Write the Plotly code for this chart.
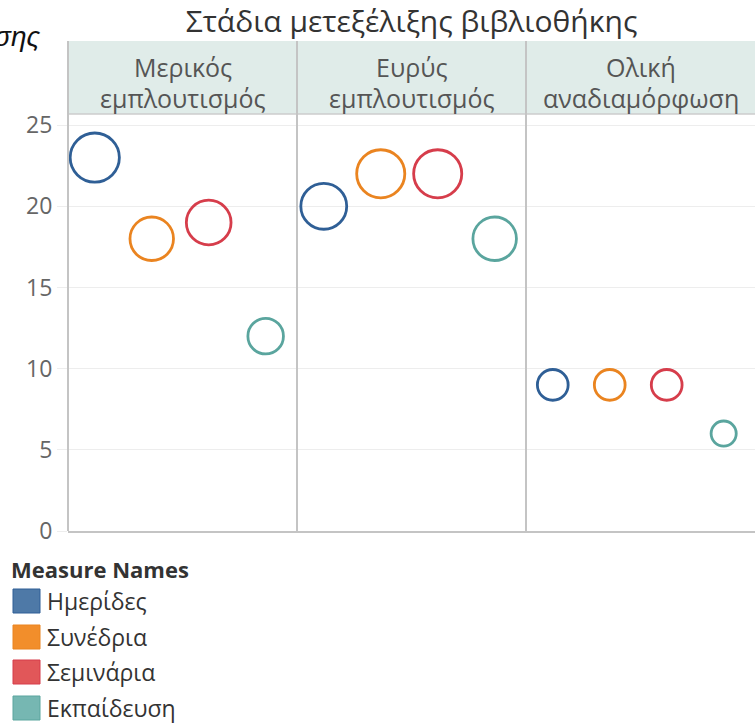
import plotly.graph_objects as go
from plotly.subplots import make_subplots

# ---- data ----
stage_line1 = ["Μερικός", "Ευρύς", "Ολική"]
stage_line2 = ["εμπλουτισμός", "εμπλουτισμός", "αναδιαμόρφωση"]
measures = ["Ημερίδες", "Συνέδρια", "Σεμινάρια", "Εκπαίδευση"]
hmerides = [23, 20, 9]
synedria = [18, 22, 9]
seminaria = [19, 22, 9]
ekpaideusi = [12, 18, 6]
y_ticks = [0, 5, 10, 15, 20, 25]
chart_title = "Στάδια μετεξέλιξης βιβλιοθήκης"
legend_title = "Measure Names"
cut_text = "σης"

series = [hmerides, synedria, seminaria, ekpaideusi]
circle_colors = ["#2f5f96", "#ea8420", "#d63d4b", "#5aa59e"]
legend_colors = ["#4e79a7", "#f28e2b", "#e15759", "#76b7b2"]

W, H = 755, 725
L, R, T, B = 68, 0, 117, 194
PH = H - T - B
PW = W - L - R
FONT = "Open Sans"


def px_x(p):
    return (p - L) / PW


def px_y(p):
    return 1 + (T - p) / PH


fig = make_subplots(rows=1, cols=3, shared_yaxes=True, horizontal_spacing=0)

for i in range(len(stage_line1)):
    for j, m in enumerate(measures):
        v = series[j][i]
        fig.add_trace(
            go.Scatter(
                x=[m], y=[v], mode="markers", name=m, showlegend=False,
                marker=dict(size=[v], sizemode="area", sizeref=0.019,
                            symbol="circle-open", color=circle_colors[j],
                            opacity=1,
                            line=dict(width=2.8, color=circle_colors[j])),
                hovertemplate=m + ": %{y}<extra></extra>",
            ),
            row=1, col=i + 1,
        )
    fig.update_xaxes(
        type="category", categoryorder="array", categoryarray=measures,
        range=[-0.47, 3.55], showticklabels=False, showgrid=False,
        zeroline=False, showline=True, linecolor="#c4c4c4", linewidth=2,
        fixedrange=True, row=1, col=i + 1,
    )

fig.update_yaxes(
    range=[0, 25.5], tickvals=y_ticks, showgrid=True, gridcolor="#ededed",
    gridwidth=1, zeroline=False, showline=False, fixedrange=True,
    tickfont=dict(size=23, color="#666666", family=FONT),
)
fig.update_yaxes(ticks="outside", ticklen=10, tickcolor="#ededed", row=1, col=1)

shapes = []
# header band
shapes.append(dict(type="rect", xref="paper", yref="paper", x0=0, x1=1,
                   y0=px_y(114), y1=px_y(41), fillcolor="#e0ece9",
                   line=dict(width=0), layer="below"))
shapes.append(dict(type="line", xref="paper", yref="paper", x0=0, x1=1,
                   y0=px_y(114), y1=px_y(114), line=dict(color="#cccccc", width=1.5)))
# panel dividers
for k in range(3):
    shapes.append(dict(type="line", xref="paper", yref="paper", x0=k / 3, x1=k / 3,
                       y0=0, y1=px_y(41), line=dict(color="#c4c4c4", width=2)))

annotations = []
for k in range(3):
    for txt, cy in ((stage_line1[k], 67), (stage_line2[k], 98)):
        annotations.append(dict(text=txt, xref="paper", yref="paper", x=(k + 0.5) / 3,
                                y=px_y(cy), xanchor="center", yanchor="middle",
                                showarrow=False,
                                font=dict(size=25, color="#555555", family=FONT)))

annotations.append(dict(text="<i>" + cut_text + "</i>", xref="paper", yref="paper",
                        x=px_x(42), y=px_y(36), xanchor="right", yanchor="middle",
                        showarrow=False,
                        font=dict(size=28, color="#111111", family="Liberation Sans")))

# legend (manual, Tableau style)
annotations.append(dict(text="<b>" + legend_title + "</b>", xref="paper", yref="paper",
                        x=px_x(9), y=px_y(569), xanchor="left", yanchor="middle",
                        showarrow=False,
                        font=dict(size=22, color="#333333", family=FONT)))
row_y = [601, 637, 672, 708]
for j, m in enumerate(measures):
    cy = row_y[j]
    shapes.append(dict(type="rect", xref="paper", yref="paper",
                       x0=px_x(13), x1=px_x(40), y0=px_y(cy + 12), y1=px_y(cy - 12),
                       fillcolor=legend_colors[j], line=dict(color=circle_colors[j], width=1)))
    annotations.append(dict(text=m, xref="paper", yref="paper", x=px_x(45),
                            y=px_y(cy), xanchor="left", yanchor="middle",
                            showarrow=False,
                            font=dict(size=23, color="#333333", family=FONT)))

fig.update_layout(
    width=W, height=H, margin=dict(l=L, r=R, t=T, b=B),
    paper_bgcolor="white", plot_bgcolor="white",
    showlegend=False,
    title=dict(text=chart_title, x=0.5, xref="paper", xanchor="center",
               y=1 - 21 / H, yref="container", yanchor="middle",
               font=dict(size=30, color="#333333", family=FONT)),
    shapes=shapes, annotations=annotations,
    font=dict(family=FONT),
)

fig.write_html("out.html", config={"displayModeBar": False},
               post_script="document.body.style.margin='0';document.body.style.overflow='hidden';")
